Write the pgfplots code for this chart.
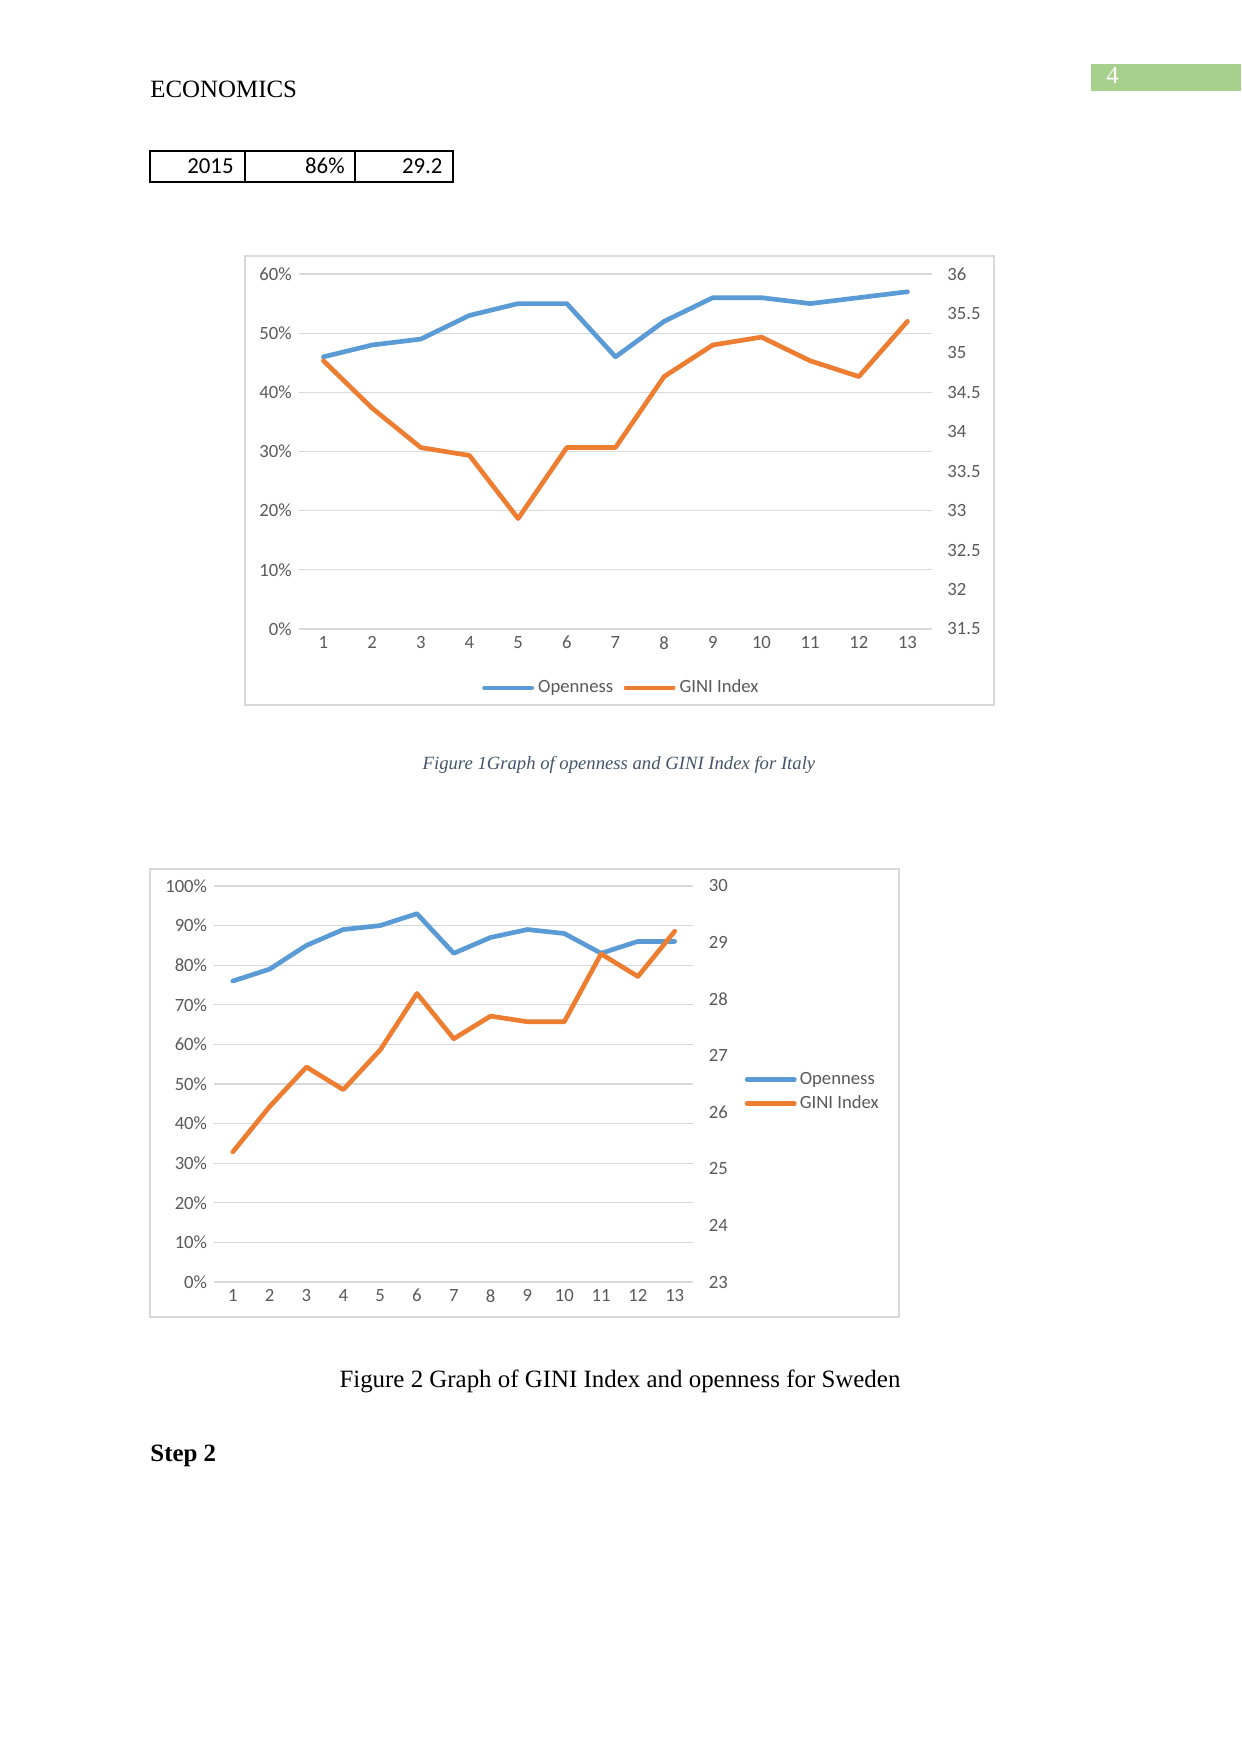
\documentclass[border=0pt]{standalone}
\usepackage{fontspec}
\setmainfont{Liberation Serif}
\newfontfamily\calibri{Carlito}
\usepackage{pgfplots}
\pgfplotsset{compat=1.18}

\definecolor{cblue}{HTML}{5B9BD5}
\definecolor{corange}{HTML}{ED7D31}
\definecolor{cgrid}{HTML}{D9D9D9}
\definecolor{ctext}{HTML}{595959}
\definecolor{cgreen}{HTML}{A8D08D}
\definecolor{ccap}{HTML}{44546A}

\pgfplotsset{
  excel/.style={
    scale only axis,
    anchor=south west,
    xmin=0.5, xmax=13.5,
    axis line style={draw=none},
    major tick length=0pt,
    tick label style={font=\calibri\fontsize{9}{11}\selectfont, text=ctext},
    xtick={1,2,3,4,5,6,7,8,9,10,11,12,13},
    xticklabels={1,2,3,4,5,6,7,8,9,10,11,12,13},
    clip=false,
  },
  openline/.style={cblue, line width=2.25pt, line join=round, line cap=round},
  giniline/.style={corange, line width=2.25pt, line join=round, line cap=round},
  legend image code/.code={\draw[#1] (0cm,0cm) -- (0.8cm,0cm);},
}

\begin{document}
\begin{tikzpicture}
\path[use as bounding box] (0bp,0bp) rectangle (595.68bp,-841.92bp);

% page furniture, in reference pixels (1 px = 0.48 bp)
\begin{scope}[x=0.48bp, y=0.48bp]
\fill[cgreen] (1091,-64) rectangle (1241,-91);
\node[anchor=base west, inner sep=0, text=white, font=\fontsize{12}{14}\selectfont] at (1106,-84) {4};
\node[anchor=base west, inner sep=0, font=\fontsize{12}{14}\selectfont] at (150,-98) {ECONOMICS};

\draw[line width=0.5pt] (150,-151) rectangle (453,-182);
\draw[line width=0.5pt] (245,-151) -- (245,-182) (355,-151) -- (355,-182);
\node[anchor=base east, inner sep=0, font=\calibri\fontsize{11}{13}\selectfont] at (234,-174) {2015};
\node[anchor=base east, inner sep=0, font=\calibri\fontsize{11}{13}\selectfont] at (345,-174) {86\%};
\node[anchor=base east, inner sep=0, font=\calibri\fontsize{11}{13}\selectfont] at (443,-174) {29.2};

\draw[cgrid, line width=0.6pt] (245,-256) rectangle (994,-705);
\draw[cgrid, line width=0.6pt] (150,-869) rectangle (899,-1317);

\node[anchor=base, inner sep=0, text=ccap, font=\itshape\fontsize{9}{11}\selectfont] at (619,-770)
  {Figure 1Graph of openness and GINI Index for Italy};
\node[anchor=base, inner sep=0, font=\fontsize{12}{14}\selectfont] at (620,-1388)
  {Figure 2 Graph of GINI Index and openness for Sweden};
\node[anchor=base west, inner sep=0, font=\bfseries\fontsize{12}{14}\selectfont] at (150,-1462) {Step 2};
\end{scope}

% ---- Italy ----
\begin{axis}[excel, at={(143.57bp,-301.92bp)}, width=303.7bp, height=170.4bp,
    ymin=0, ymax=60, ytick={0,10,20,30,40,50,60},
    yticklabels={0\%,10\%,20\%,30\%,40\%,50\%,60\%},
    ymajorgrids, grid style={cgrid, line width=0.6pt}]
  \addplot[openline] coordinates {(1,46) (2,48) (3,49) (4,53) (5,55) (6,55) (7,46)
    (8,52) (9,56) (10,56) (11,55) (12,56) (13,57)};
\end{axis}
\begin{axis}[excel, at={(143.57bp,-301.92bp)}, width=303.7bp, height=170.4bp,
    hide x axis, yticklabel pos=right,
    ymin=31.5, ymax=36, ytick={31.5,32,32.5,33,33.5,34,34.5,35,35.5,36},
    yticklabels={31.5,32,32.5,33,33.5,34,34.5,35,35.5,36},
    yticklabel style={xshift=4bp},
    legend style={at={(0.511,-0.166)}, anchor=center, draw=none, fill=none,
      font=\calibri\fontsize{9}{11}\selectfont, text=ctext,
      /tikz/every even column/.append style={column sep=3pt}},
    legend columns=2]
  \addlegendimage{openline}
  \addlegendentry{Openness}
  \addplot[giniline] coordinates {(1,34.9) (2,34.3) (3,33.8) (4,33.7) (5,32.9) (6,33.8)
    (7,33.8) (8,34.7) (9,35.1) (10,35.2) (11,34.9) (12,34.7) (13,35.4)};
  \addlegendentry{GINI Index}
\end{axis}

% ---- Sweden ----
\begin{axis}[excel, at={(102.91bp,-615.36bp)}, width=229.8bp, height=190.1bp,
    ymin=0, ymax=100, ytick={0,10,20,30,40,50,60,70,80,90,100},
    yticklabels={0\%,10\%,20\%,30\%,40\%,50\%,60\%,70\%,80\%,90\%,100\%},
    ymajorgrids, grid style={cgrid, line width=0.6pt}]
  \addplot[openline] coordinates {(1,76) (2,79) (3,85) (4,89) (5,90) (6,93) (7,83)
    (8,87) (9,89) (10,88) (11,83) (12,86) (13,86)};
\end{axis}
\begin{axis}[excel, at={(102.91bp,-615.36bp)}, width=229.8bp, height=190.1bp,
    hide x axis, yticklabel pos=right,
    ymin=23, ymax=30, ytick={23,24,25,26,27,28,29,30},
    yticklabels={23,24,25,26,27,28,29,30},
    yticklabel style={xshift=4bp},
    legend cell align=left,
    legend style={at={(1.094,0.48)}, anchor=west, draw=none, fill=none,
      font=\calibri\fontsize{9}{11}\selectfont, text=ctext,
      nodes={inner xsep=1.5pt}},
    legend columns=1]
  \addlegendimage{openline}
  \addlegendentry{Openness}
  \addplot[giniline] coordinates {(1,25.3) (2,26.1) (3,26.8) (4,26.4) (5,27.1) (6,28.1)
    (7,27.3) (8,27.7) (9,27.6) (10,27.6) (11,28.8) (12,28.4) (13,29.2)};
  \addlegendentry{GINI Index}
\end{axis}
\end{tikzpicture}
\end{document}
